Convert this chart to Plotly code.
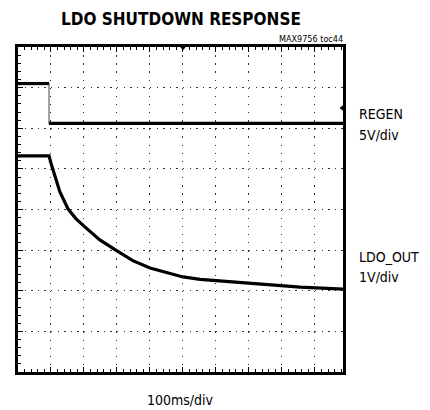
import plotly.graph_objects as go

# Horizontal time base: 100 ms/div
time_range_ms = [0, 985]
time_div_ms = 100

# REGEN channel, 5 V/div
regen_time_ms = [0, 94, 94, 985]
regen_volts = [4.9, 4.9, 0.0, 0.0]
regen_range_v = [-30.6, 9.4]

# LDO_OUT channel, 1 V/div
ldo_time_ms = [0, 94, 100, 112, 127, 152, 176, 200, 248, 300, 348, 400,
               452, 500, 552, 652, 755, 855, 985]
ldo_volts = [3.32, 3.32, 3.14, 2.82, 2.43, 2.01, 1.77, 1.59, 1.25, 0.98,
             0.74, 0.56, 0.44, 0.34, 0.28, 0.22, 0.14, 0.09, 0.04]
ldo_range_v = [-2, 6]

# Scope indicators
trigger_time_ms = 500
trigger_level_v = 1.9

title_text = "LDO SHUTDOWN RESPONSE"
tag_text = "MAX9756 toc44"
regen_label = ["REGEN", "5V/div"]
ldo_label = ["LDO_OUT", "1V/div"]
time_label = "100ms/div"

narrow = "DejaVu Sans Condensed, Liberation Sans Narrow, Arial Narrow, sans-serif"
heavy = "DejaVu Sans Condensed, Liberation Sans Narrow, Arial Narrow, sans-serif"

fig = go.Figure()

# REGEN: thin grey edge under the thick black levels
fig.add_trace(go.Scatter(x=regen_time_ms, y=regen_volts, yaxis="y2", mode="lines",
                         line=dict(color="#8a8a8a", width=1.6), hoverinfo="skip"))
edge = 2
lvl_x = regen_time_ms[:edge] + [None] + regen_time_ms[edge:]
lvl_y = regen_volts[:edge] + [None] + regen_volts[edge:]
fig.add_trace(go.Scatter(x=lvl_x, y=lvl_y, yaxis="y2", mode="lines",
                         line=dict(color="black", width=3.2), connectgaps=False,
                         hoverinfo="skip"))

# LDO_OUT decay
fig.add_trace(go.Scatter(x=ldo_time_ms, y=ldo_volts, mode="lines",
                         line=dict(color="black", width=3.2),
                         hoverinfo="skip"))

# trigger position (top) and trigger level (right edge)
fig.add_trace(go.Scatter(x=[trigger_time_ms], y=[ldo_range_v[1]], mode="markers",
                         marker=dict(symbol="triangle-down", size=7, color="black"),
                         cliponaxis=False, hoverinfo="skip"))
fig.add_trace(go.Scatter(x=[time_range_ms[1]], y=[trigger_level_v], yaxis="y2", mode="markers",
                         marker=dict(symbol="triangle-left", size=7, color="black"),
                         cliponaxis=False, hoverinfo="skip"))

grid_color = "#333333"
common = dict(showticklabels=False, zeroline=False, showline=True, linewidth=3,
              linecolor="black", ticks="inside", ticklen=5, tickwidth=1.2,
              tickcolor="black", showgrid=True, gridcolor=grid_color, gridwidth=1.4,
              fixedrange=True)


def label(text, x, y, anchor, size, family=narrow, weight="normal"):
    return dict(text=text, xref="paper", yref="paper", x=x, y=y,
                xanchor=anchor, yanchor="middle", align="left", showarrow=False,
                font=dict(family=family, size=size, color="black", weight=weight))


fig.update_layout(
    width=430, height=410,
    margin=dict(l=18, r=87, t=47, b=38),
    paper_bgcolor="white", plot_bgcolor="white",
    showlegend=False,
    xaxis=dict(range=time_range_ms, tick0=0, dtick=time_div_ms, mirror="ticks",
               griddash="1.4px,6.725px",
               minor=dict(dtick=time_div_ms / 5, ticks="inside", ticklen=3,
                          tickwidth=1.2, tickcolor="black", showgrid=False),
               **common),
    yaxis=dict(range=ldo_range_v, tick0=0, dtick=1, mirror=True,
               griddash="1.4px,5.2px",
               minor=dict(dtick=0.2, ticks="inside", ticklen=3,
                          tickwidth=1.2, tickcolor="black", showgrid=False),
               **common),
    yaxis2=dict(range=regen_range_v, overlaying="y", visible=False, fixedrange=True),
    annotations=[
        label(title_text, 0.5, 1.085, "center", 17, heavy, "bold"),
        label(tag_text, 1.006, 1.026, "right", 9),
        label(regen_label[0], 1.043, 0.7938, "left", 14),
        label(regen_label[1], 1.043, 0.7305, "left", 14),
        label(ldo_label[0], 1.043, 0.3551, "left", 14),
        label(ldo_label[1], 1.043, 0.2935, "left", 14),
        label(time_label, 0.5015, -0.0862, "center", 14),
    ],
)

fig.write_html("out.html")
